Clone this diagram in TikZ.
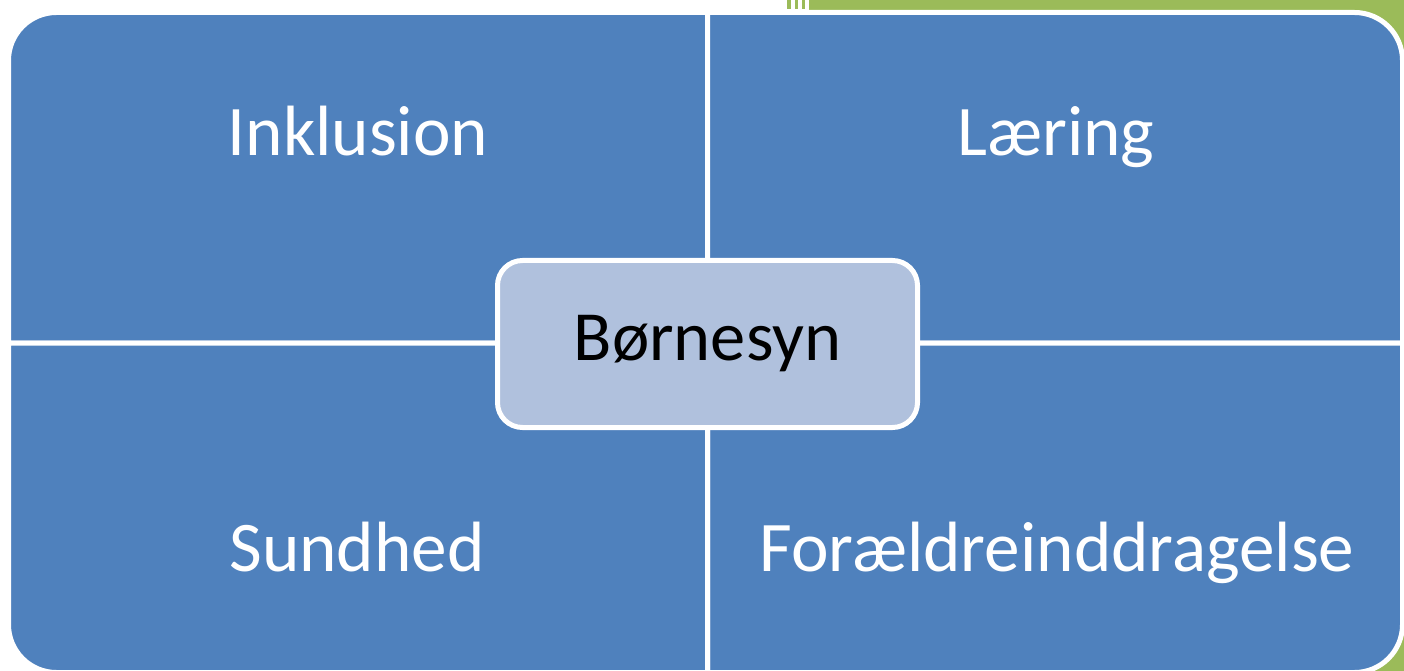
\documentclass[tikz,border=0pt]{standalone}
\usepackage{fontspec}
\setmainfont{Carlito}
\definecolor{qblue}{HTML}{4F81BD}
\definecolor{qgreen}{HTML}{9BBB59}
\definecolor{qcore}{HTML}{B0C1DD}
\begin{document}
\begin{tikzpicture}[x=1pt,y=1pt,
  quad/.style={fill=qblue,draw=white,line width=5pt,line join=miter},
  qlabel/.style={text=white,anchor=base,inner sep=0pt,font=\fontsize{71.2}{85}\selectfont},
  corebox/.style={fill=qcore,draw=white,line width=5pt,rounded corners=25pt,
    minimum width=420pt,minimum height=167pt,inner sep=0pt,text=black,
    font=\fontsize{70.5}{84}\selectfont}]
\useasboundingbox (0,0) rectangle (1404,670);
\clip (0,0) rectangle (1404,670);
% background decoration
\fill[qgreen] (809,-20) rectangle (1420,670);
\fill[qgreen] (787,661) rectangle (791,670);
\fill[qgreen] (795,661) rectangle (798,670);
\fill[qgreen] (802,661) rectangle (805,670);
% quadrants
\def\L{8.5}\def\R{1402.5}\def\T{657.5}\def\B{-2.5}\def\X{707.5}\def\Y{327}\def\r{48}
\draw[quad] (\L,\Y) -- (\L,\T-\r) arc[start angle=180,end angle=90,radius=\r] -- (\X,\T) -- (\X,\Y) -- cycle;
\draw[quad] (\X,\Y) -- (\X,\T) -- (\R-\r,\T) arc[start angle=90,end angle=0,radius=\r] -- (\R,\Y) -- cycle;
\draw[quad] (\X,\Y) -- (\R,\Y) -- (\R,\B+\r) arc[start angle=0,end angle=-90,radius=\r] -- (\X,\B) -- cycle;
\draw[quad] (\X,\Y) -- (\X,\B) -- (\L+\r,\B) arc[start angle=270,end angle=180,radius=\r] -- (\L,\Y) -- cycle;
% labels
\node[qlabel] (inklusion) at (358,514) {Inklusion};
\node[qlabel] (laering) at (1056,514) {Læring};
\node[qlabel] (sundhed) at (357,99) {Sundhed};
\node[qlabel] (foraeldre) at (1057,99) {Forældreinddragelse};
% centre
\node[corebox] (core) at (707.5,326) {Børnesyn};
\end{tikzpicture}
\end{document}
